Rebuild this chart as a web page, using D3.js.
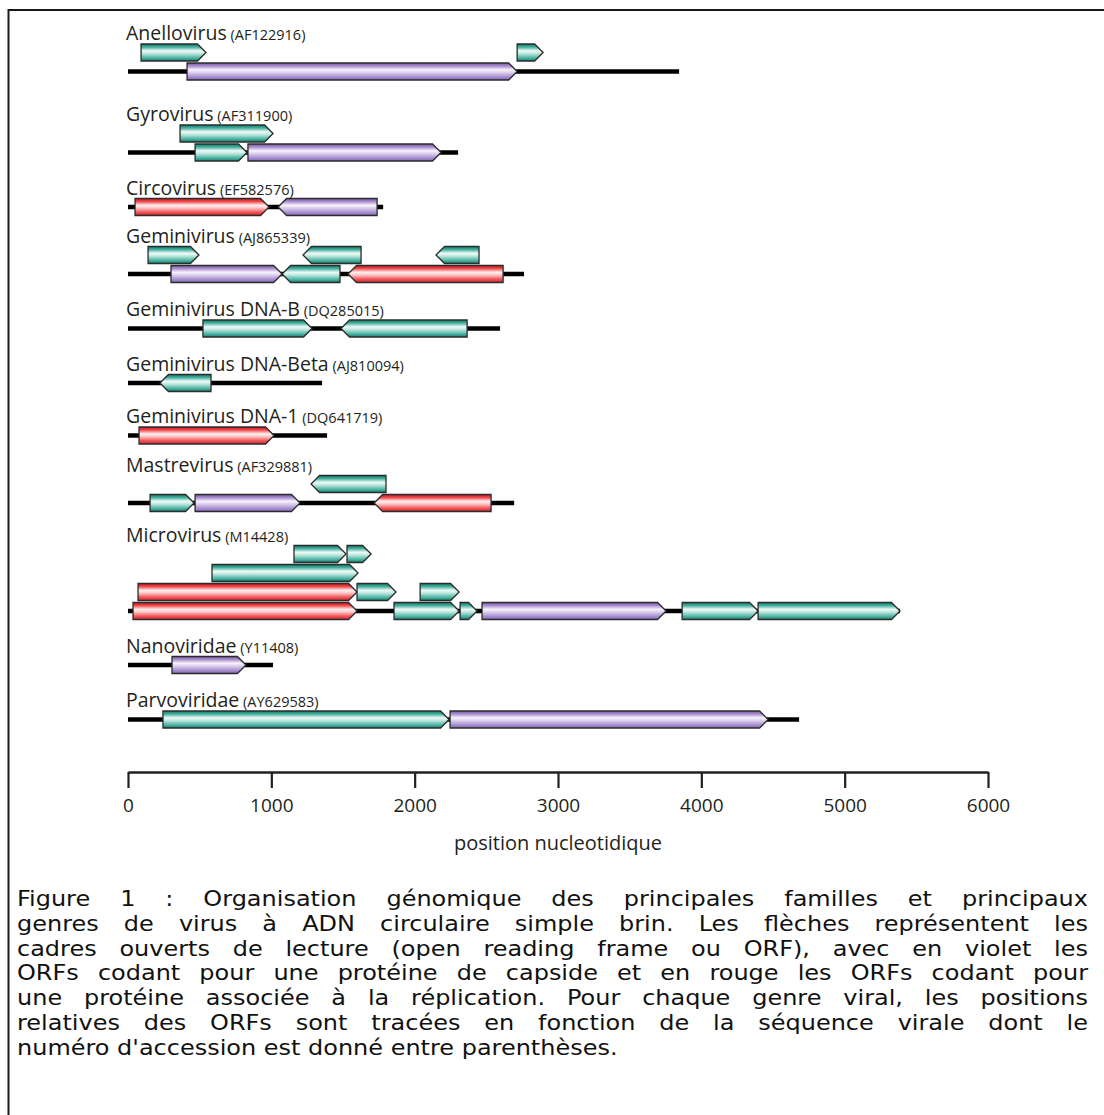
<!DOCTYPE html>
<html>
<head>
<meta charset="utf-8">
<script src="https://cdn.jsdelivr.net/npm/d3@7"></script>
<style>
  body { margin: 0; background: #fff; }
  svg { display: block; }
</style>
</head>
<body>
<svg id="fig" width="1104" height="1115"></svg>
<script>
// ---- data -------------------------------------------------------------
const genomeNames = [
  "Anellovirus", "Gyrovirus", "Circovirus", "Geminivirus",
  "Geminivirus DNA-B", "Geminivirus DNA-Beta", "Geminivirus DNA-1",
  "Mastrevirus", "Microvirus", "Nanoviridae", "Parvoviridae"
];
const accessions = [
  "AF122916", "AF311900", "EF582576", "AJ865339", "DQ285015", "AJ810094",
  "DQ641719", "AF329881", "M14428", "Y11408", "AY629583"
];
// genome length (nt)
const genomeLengths = [3845, 2303, 1780, 2763, 2596, 1354, 1389, 2694, 5386, 1012, 4682];

// ORF kinds: capsid protein, replication-associated protein, other
const orfKinds = ["other", "cap", "rep"];

// ORFs: [genome index, track (0 = on the genome line), tail (nt), tip (nt), kind]
// tip < tail means the ORF is on the complementary strand (arrow points left)
const orfs = [
  [0, 1,   91,  544, "other"],
  [0, 1, 2715, 2896, "other"],
  [0, 0,  412, 2715, "cap"],

  [1, 1,  363, 1012, "other"],
  [1, 0,  468,  830, "other"],
  [1, 0,  837, 2184, "cap"],

  [2, 0,   49,  984, "rep"],
  [2, 0, 1738, 1047, "cap"],

  [3, 1,  140,  495, "other"],
  [3, 1, 1626, 1221, "other"],
  [3, 1, 2449, 2149, "other"],
  [3, 0,  300, 1075, "cap"],
  [3, 0, 1479, 1075, "other"],
  [3, 0, 2617, 1535, "rep"],

  [4, 0,  523, 1284, "other"],
  [4, 0, 2366, 1486, "other"],

  [5, 0,  579,  223, "other"],

  [6, 0,   77, 1019, "rep"],

  [7, 1, 1800, 1277, "other"],
  [7, 0,  154,  461, "other"],
  [7, 0,  468, 1200, "cap"],
  [7, 0, 2533, 1717, "rep"],

  [8, 3, 1158, 1521, "other"],
  [8, 3, 1528, 1696, "other"],
  [8, 2,  586, 1605, "other"],
  [8, 1,   70, 1598, "rep"],
  [8, 1, 1598, 1870, "other"],
  [8, 1, 2038, 2310, "other"],
  [8, 0,   35, 1598, "rep"],
  [8, 0, 1856, 2310, "other"],
  [8, 0, 2317, 2435, "other"],
  [8, 0, 2470, 3754, "cap"],
  [8, 0, 3866, 4396, "other"],
  [8, 0, 4396, 5386, "other"],

  [9, 0,  307,  823, "cap"],

  [10, 0,  244, 2240, "other"],
  [10, 0, 2247, 4466, "cap"]
];

const axisTicks = [0, 1000, 2000, 3000, 4000, 5000, 6000];
const axisTitle = "position nucleotidique";

const captionLines = [
  "Figure 1 : Organisation génomique des principales familles et principaux",
  "genres de virus à ADN circulaire simple brin. Les flèches représentent les",
  "cadres ouverts de lecture (open reading frame ou ORF), avec en violet les",
  "ORFs codant pour une protéine de capside et en rouge les ORFs codant pour",
  "une protéine associée à la réplication. Pour chaque genre viral, les positions",
  "relatives des ORFs sont tracées en fonction de la séquence virale dont le",
  "numéro d'accession est donné entre parenthèses."
];

// ---- layout -----------------------------------------------------------
const firstLabelY = 40;          // baseline of the first genome name
const labelToTrack = 12.5;       // name baseline -> centre of the top track
const trackPitch = 19;           // distance between stacked ORF tracks
const blockGaps = [49.5, 42, 35.5, 42, 42, 40, 36, 38.5, 41.5, 42]; // genome line -> next name
const arrowH = 17;
const headLen = 8.5;
const axisY = 772;

const svg = d3.select("#fig");
const x = d3.scaleLinear().domain([0, 6000]).range([128, 988]);

// gradients: dark edges, bright highlight a little above the middle
const gradientStops = {
  other: [[0, "#13806f"], [0.17, "#3eab9a"], [0.40, "#eefaf7"], [0.55, "#c3e9e1"], [0.80, "#53b8a8"], [1, "#17806f"]],
  cap:   [[0, "#7b58a6"], [0.17, "#a68ace"], [0.40, "#f7f3fc"], [0.55, "#ddd2ef"], [0.80, "#ab93d2"], [1, "#8466b3"]],
  rep:   [[0, "#c9181d"], [0.17, "#ee4448"], [0.40, "#fff0f0"], [0.55, "#ffc9c9"], [0.80, "#f0585b"], [1, "#d1272b"]]
};
const defs = svg.append("defs");
orfKinds.forEach(k => {
  const g = defs.append("linearGradient").attr("id", "grad-" + k)
    .attr("x1", 0).attr("y1", 0).attr("x2", 0).attr("y2", 1);
  g.selectAll("stop").data(gradientStops[k]).join("stop")
    .attr("offset", d => d[0]).attr("stop-color", d => d[1]);
});

// frame (top and left rules)
svg.append("path")
  .attr("d", "M8.5,1115V10H1104")
  .attr("fill", "none").attr("stroke", "#1a1a1a").attr("stroke-width", 2);

// vertical position of each genome block
const nTracks = genomeNames.map((_, i) =>
  d3.max(orfs.filter(o => o[0] === i), o => o[1]) + 1);
const labelY = [], lineY = [];
genomeNames.forEach((_, i) => {
  labelY[i] = i === 0 ? firstLabelY : lineY[i - 1] + blockGaps[i - 1];
  lineY[i] = labelY[i] + labelToTrack + trackPitch * (nTracks[i] - 1);
});
const trackY = (g, t) => lineY[g] - t * trackPitch;

// genome names
const labels = svg.append("g").attr("font-family", "'Open Sans', sans-serif").attr("fill", "#231f20");
labels.selectAll("text").data(genomeNames).join("text")
  .attr("x", 126).attr("y", (d, i) => labelY[i])
  .attr("font-size", 19.5)
  .text(d => d)
  .append("tspan").attr("font-size", 14.5)
  .text((d, i) => " (" + accessions[i] + ")");

// genome lines
svg.append("g").selectAll("line").data(genomeLengths).join("line")
  .attr("x1", x(0)).attr("x2", d => x(d))
  .attr("y1", (d, i) => lineY[i]).attr("y2", (d, i) => lineY[i])
  .attr("stroke", "#000").attr("stroke-width", 4.5);

// ORF arrows
function arrowPath(o) {
  const y = trackY(o[0], o[1]);
  const a = x(o[2]), b = x(o[3]);
  const dir = b >= a ? 1 : -1;
  const len = Math.abs(b - a);
  const h = Math.min(headLen, len * 0.5);
  const top = y - arrowH / 2, bot = y + arrowH / 2;
  const shoulder = b - dir * h;
  return `M${a},${top}L${shoulder},${top}L${b},${y}L${shoulder},${bot}L${a},${bot}Z`;
}
svg.append("g").selectAll("path").data(orfs).join("path")
  .attr("d", arrowPath)
  .attr("fill", d => `url(#grad-${d[4]})`)
  .attr("stroke", "#2b2b2b").attr("stroke-width", 1.3)
  .attr("stroke-linejoin", "miter");

// nucleotide axis
const axis = svg.append("g").attr("transform", `translate(0,${axisY})`)
  .call(d3.axisBottom(x).tickValues(axisTicks).tickFormat(d3.format("d"))
    .tickSize(16).tickSizeOuter(0).tickPadding(11));
axis.select(".domain").attr("stroke", "#231f20").attr("stroke-width", 2.6);
axis.selectAll(".tick line").attr("stroke", "#231f20").attr("stroke-width", 2.2);
axis.selectAll(".tick text").attr("font-family", "'Open Sans', sans-serif")
  .attr("font-size", 19).attr("fill", "#231f20");
svg.append("text")
  .attr("x", (x(0) + x(6000)) / 2).attr("y", 850)
  .attr("text-anchor", "middle")
  .attr("font-family", "'Open Sans', sans-serif").attr("font-size", 20)
  .attr("fill", "#231f20")
  .text(axisTitle);

// caption, slightly widened type, justified between the margins (last line ragged)
const capLeft = 17, capRight = 1088, capFirst = 906, capLead = 24.8, capStretch = 1.09;
const capWidth = (capRight - capLeft) / capStretch;
const cap = svg.append("g")
  .attr("transform", `translate(${capLeft},0) scale(${capStretch},1)`)
  .attr("font-family", "'DejaVu Sans', Verdana, sans-serif")
  .attr("font-size", 22).attr("fill", "#111");
captionLines.forEach((line, i) => {
  const t = cap.append("text").attr("x", 0).attr("y", capFirst + i * capLead).text(line);
  if (i < captionLines.length - 1) {
    const natural = t.node().getComputedTextLength();
    const gaps = line.split(" ").length - 1;
    const extra = (capWidth - natural) / gaps;
    if (extra >= 0) t.attr("word-spacing", extra);
    else t.attr("textLength", capWidth).attr("lengthAdjust", "spacingAndGlyphs");
  }
});
</script>
</body>
</html>
